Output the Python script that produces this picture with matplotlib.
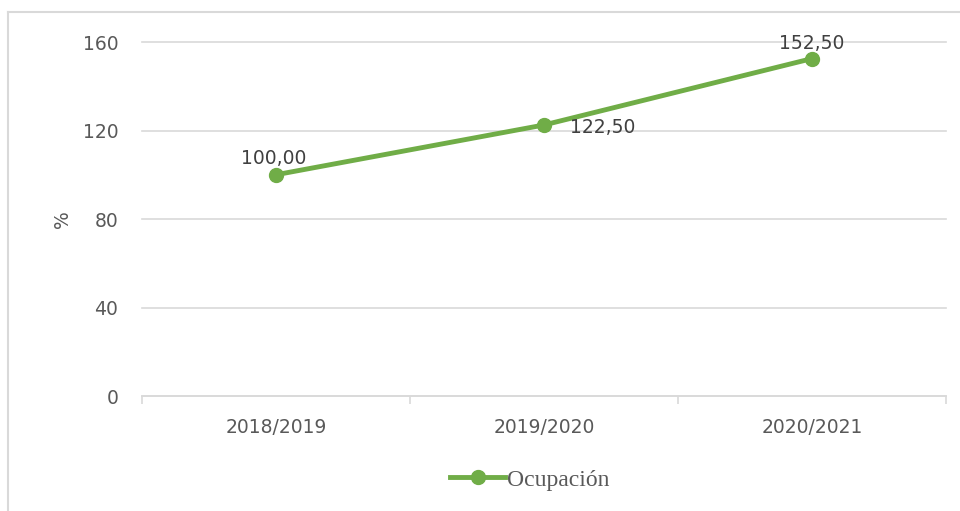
import matplotlib.pyplot as plt
from matplotlib.lines import Line2D

# data
periods = ['2018/2019', '2019/2020', '2020/2021']
ocupacion = [100.00, 122.50, 152.50]
labels = ['100,00', '122,50', '152,50']
yticks = [0, 40, 80, 120, 160]

green = '#70AD47'
grey_txt = '#595959'
grid_c = '#D9D9D9'

fig = plt.figure(figsize=(9.6, 5.11), dpi=100)
ax = fig.add_axes([142 / 960, 1 - 396 / 511, 804 / 960, 354 / 511])

x = list(range(len(periods)))
ax.plot(x, ocupacion, color=green, linewidth=3.5, marker='o', markersize=10,
        label='Ocupación', zorder=3)

ax.set_xlim(-0.5, 2.5)
ax.set_ylim(0, 160)
ax.set_yticks(yticks)
ax.set_xticks(x)
ax.set_xticklabels(periods)
ax.set_xticks([-0.5, 0.5, 1.5, 2.5], minor=True)
ax.grid(axis='y', color=grid_c, linewidth=1.2)
for gl in ax.get_ygridlines():
    gl.set_clip_on(False)
ax.set_axisbelow(True)

for s in ['top', 'right', 'left']:
    ax.spines[s].set_visible(False)
ax.spines['bottom'].set_color(grid_c)
ax.spines['bottom'].set_linewidth(1.2)

ax.tick_params(axis='y', length=0, pad=17, labelsize=13.5, labelcolor=grey_txt)
ax.tick_params(axis='x', which='major', length=0, pad=16, labelsize=13.5, labelcolor=grey_txt)
ax.tick_params(axis='x', which='minor', length=6, width=1.2, color=grid_c)

ax.set_ylabel('%', fontsize=13.5, color=grey_txt, labelpad=8)

# data labels
offsets = [(-2, 12), (42, -2), (0, 11)]
for xi, yi, lab, off in zip(x, ocupacion, labels, offsets):
    ax.annotate(lab, (xi, yi), xytext=off, textcoords='offset points',
                ha='center', va='center', fontsize=13.5, color='#404040')

# legend
handle = Line2D([0], [0], color=green, linewidth=3.5, marker='o', markersize=10)
fig.legend([handle], ['Ocupación'], loc='center', bbox_to_anchor=(530 / 960, 1 - 480 / 511),
           frameon=False, prop={'family': 'Liberation Serif', 'size': 17},
           handlelength=2.3, handletextpad=0.1, labelcolor=grey_txt)

# outer frame (left and top only visible)
fig.add_artist(Line2D([8 / 960, 8 / 960], [0, 1 - 12 / 511], color=grid_c, linewidth=1.5))
fig.add_artist(Line2D([8 / 960, 1], [1 - 12 / 511, 1 - 12 / 511], color=grid_c, linewidth=1.5))

plt.savefig('out.png', dpi=100)
